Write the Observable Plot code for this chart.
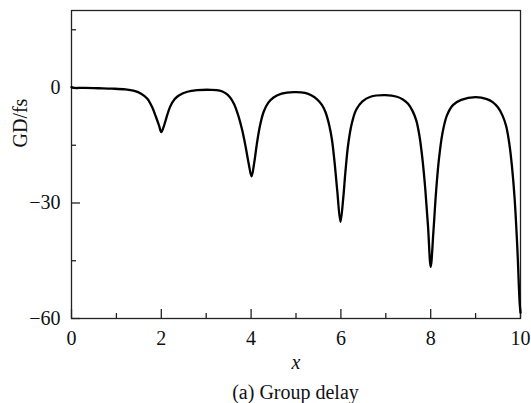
<!DOCTYPE html>
<html>
<head>
<meta charset="utf-8">
<script src="https://cdn.jsdelivr.net/npm/d3@7"></script>
<script src="https://cdn.jsdelivr.net/npm/@observablehq/plot@0.6"></script>
<style>
  html, body { margin: 0; padding: 0; background: #fff; }
  #chart svg { display: block; }
  #caption { font-family: "Liberation Serif", serif; font-size: 20px; line-height: 24px;
             width: 531px; text-align: center; padding-left: 60px; box-sizing: border-box; margin-top: 5px; color: #111; }
</style>
</head>
<body>
<div id="chart"></div>
<div id="caption">(a) Group delay</div>
<script>
const xs = [0, 0.05, 0.3, 0.6, 0.9, 1.2, 1.4, 1.55, 1.69, 1.8, 1.88, 1.95, 2.0, 2.05, 2.11, 2.2, 2.3, 2.4, 2.58, 2.8,
  3.1, 3.3, 3.42, 3.52, 3.62, 3.72, 3.8, 3.88, 3.95, 4.01, 4.07, 4.13, 4.2, 4.28, 4.38, 4.5, 4.68, 4.95,
  5.2, 5.35, 5.47, 5.58, 5.66, 5.74, 5.8, 5.86, 5.92, 5.99, 6.05, 6.1, 6.16, 6.24, 6.34, 6.48, 6.66, 6.99,
  7.25, 7.38, 7.5, 7.6, 7.68, 7.75, 7.82, 7.88, 7.94, 8.0, 8.06, 8.12, 8.18, 8.26, 8.36, 8.5, 8.68, 9.0,
  9.25, 9.38, 9.5, 9.6, 9.68, 9.75, 9.81, 9.87, 9.93, 9.98, 10.0];
const ys = [0.1, -0.1, -0.1, -0.2, -0.3, -0.5, -0.9, -1.6, -2.9, -5.2, -7.6, -9.9, -11.6, -10.3, -8.0, -4.9, -3.0, -2.0, -1.1, -0.7,
  -0.6, -0.8, -1.4, -2.4, -4.3, -7.5, -11.0, -15.5, -20.0, -23.1, -19.5, -14.5, -9.8, -6.3, -4.0, -2.6, -1.6, -1.2,
  -1.4, -2.1, -3.1, -4.6, -6.5, -9.8, -13.5, -19.5, -27.0, -34.9, -29.0, -22.0, -15.0, -9.5, -5.8, -3.6, -2.4, -2.0,
  -2.4, -3.1, -4.3, -6.2, -8.6, -12.6, -19.0, -26.5, -36.0, -46.6, -37.5, -27.0, -19.0, -12.0, -7.3, -4.5, -3.2, -2.5,
  -3.0, -3.8, -5.2, -7.3, -10.0, -14.5, -20.5, -29.0, -41.8, -55.7, -58.5];
const xMajor = [0, 2, 4, 6, 8, 10];
const xMinor = [1, 3, 5, 7, 9];
const yMajor = [-60, -30, 0];
const yMinor = [-45, -15, 15];
const xLabel = "x";
const yLabel = "GD/fs";

const data = xs.map((x, i) => ({x, y: ys[i]}));
const ink = "#222";

const plot = Plot.plot({
  width: 531,
  height: 375,
  marginTop: 10,
  marginBottom: 57,
  marginLeft: 71,
  marginRight: 11,
  style: {fontFamily: "Liberation Serif, serif", fontSize: "20px", color: "#111", background: "#fff"},
  x: {domain: [0, 10], label: null},
  y: {domain: [-60, 20], label: null},
  marks: [
    Plot.frame({stroke: ink, strokeWidth: 1.3}),
    Plot.axisX(xMajor, {tickSize: -9, tickFormat: () => "", stroke: ink, strokeWidth: 1.3}),
    Plot.axisX(xMinor, {tickSize: -5, tickFormat: () => "", stroke: ink, strokeWidth: 1.3}),
    Plot.axisY(yMajor, {tickSize: -9, tickFormat: () => "", stroke: ink, strokeWidth: 1.3}),
    Plot.axisY(yMinor, {tickSize: -5, tickFormat: () => "", stroke: ink, strokeWidth: 1.3}),
    Plot.axisX(xMajor, {tickSize: 0, tickPadding: 12, fontSize: 20}),
    Plot.axisY(yMajor, {tickSize: 0, tickPadding: 11, fontSize: 20}),
    Plot.text([xLabel], {frameAnchor: "bottom", dy: 44, text: d => d, fontStyle: "italic", fontSize: 20, lineAnchor: "middle"}),
    Plot.text([yLabel], {frameAnchor: "left", dx: -51, dy: -17, text: d => d, rotate: -90, fontSize: 20, lineAnchor: "middle"}),
    Plot.line(data, {x: "x", y: "y", stroke: "#000", strokeWidth: 2.3, curve: "catmull-rom"})
  ]
});
document.getElementById("chart").appendChild(plot);
</script>
</body>
</html>
